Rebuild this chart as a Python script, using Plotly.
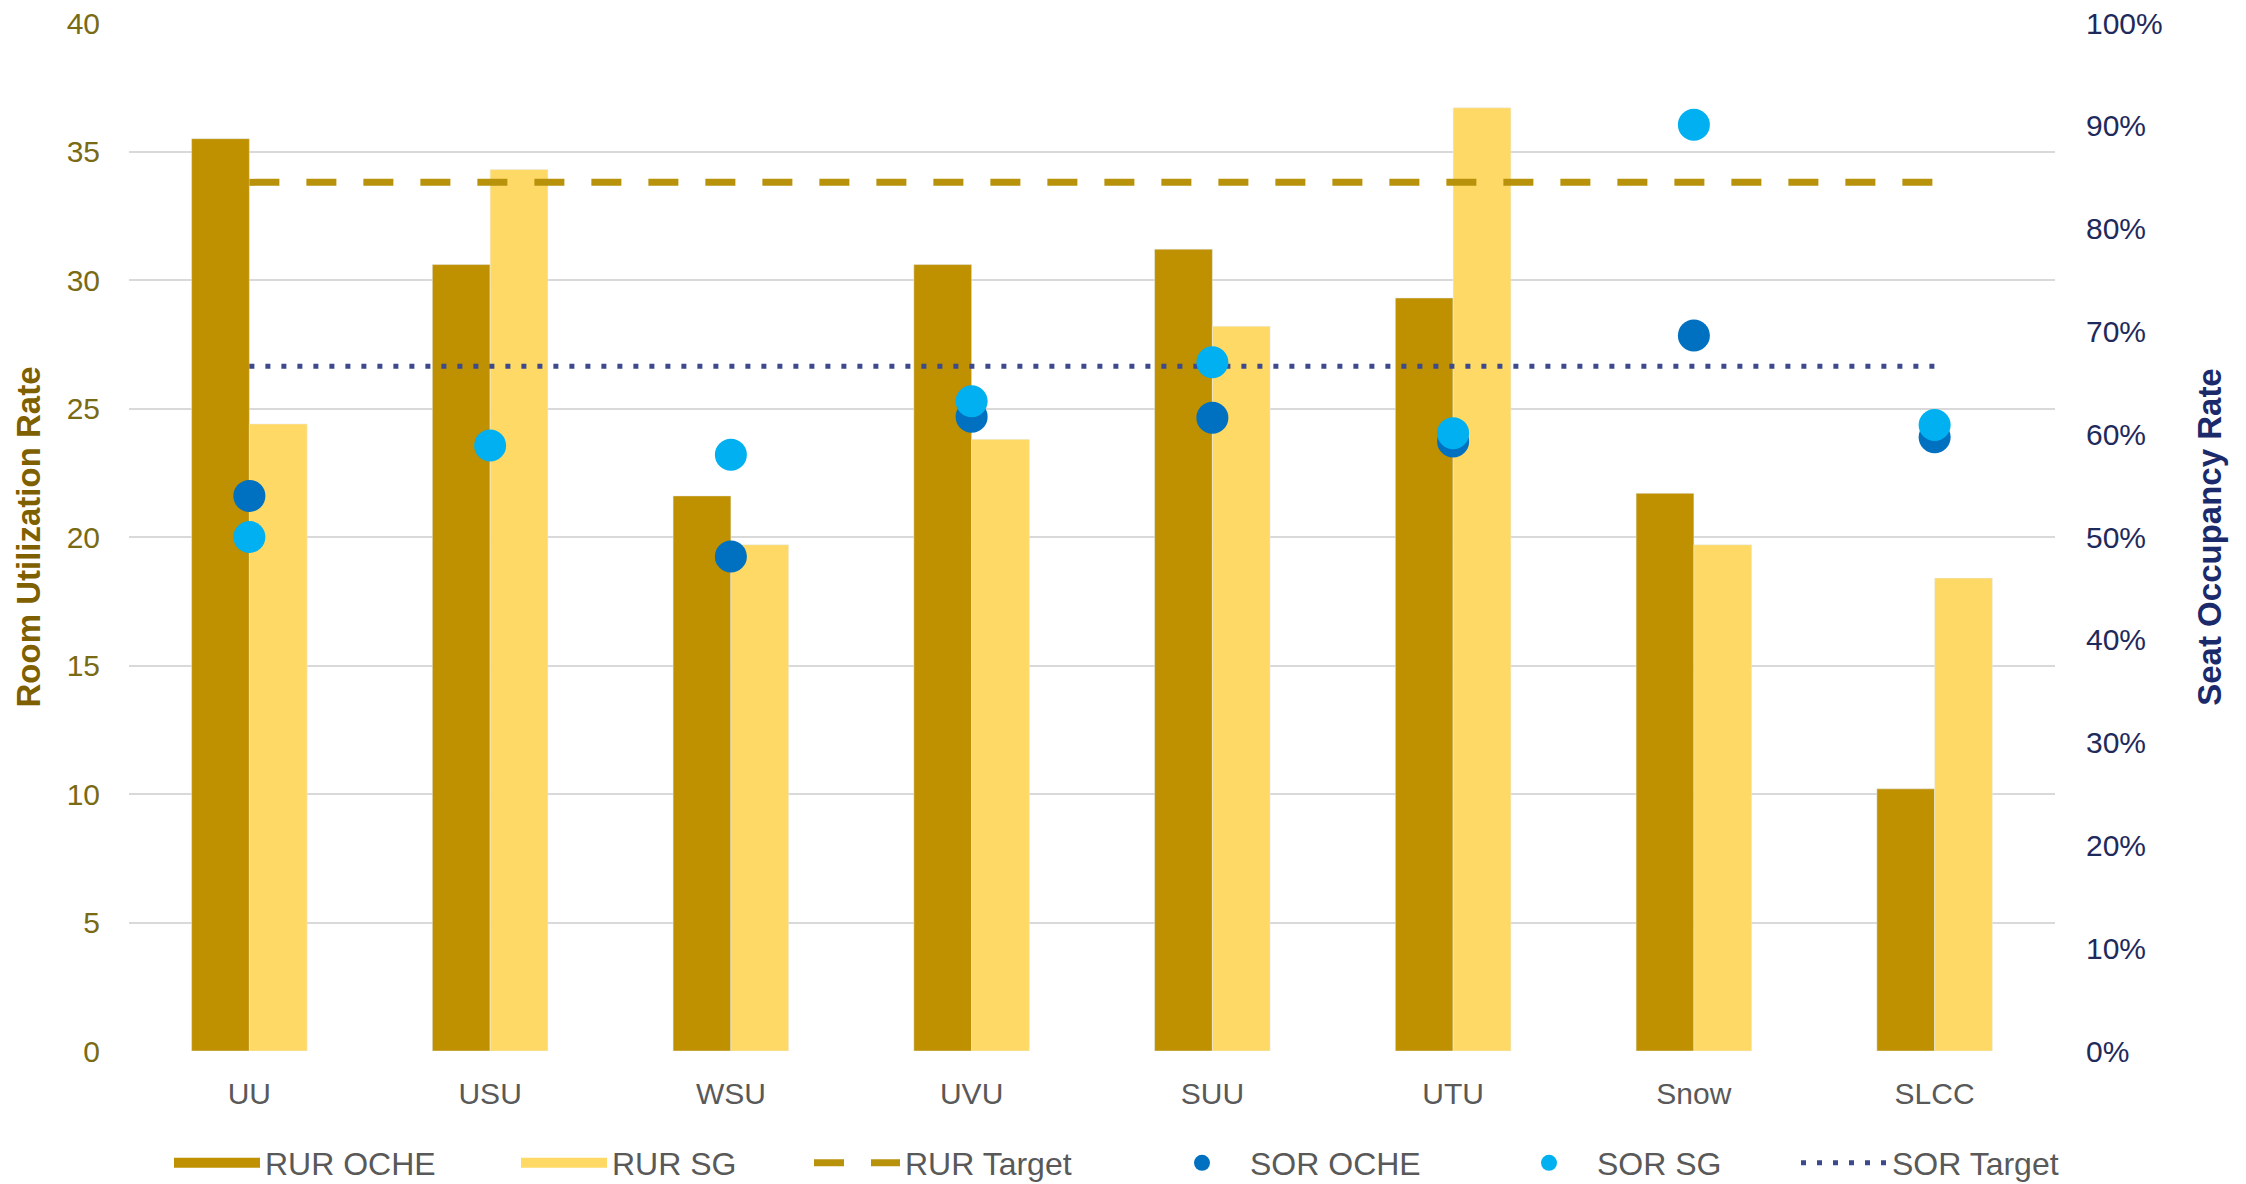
import plotly.graph_objects as go

categories = ["UU", "USU", "WSU", "UVU", "SUU", "UTU", "Snow", "SLCC"]
rur_oche = [35.5, 30.6, 21.6, 30.6, 31.2, 29.3, 21.7, 10.2]
rur_sg = [24.4, 34.3, 19.7, 23.8, 28.2, 36.7, 19.7, 18.4]
rur_target = [33.8] * len(categories)
sor_oche = [0.54, None, 0.481, 0.617, 0.616, 0.593, 0.696, 0.597]
sor_sg = [0.50, 0.589, 0.58, 0.632, 0.67, 0.601, 0.901, 0.609]
sor_target = [0.666] * len(categories)
left_ticks = list(range(0, 45, 5))
right_ticks = [i / 10 for i in range(0, 11)]

C_OCHE = "#BF9000"
C_SG = "#FFD966"
C_RT = "#B8920A"
C_SO = "#0070C0"
C_SS = "#00B0F0"
C_ST = "#3B4A8C"
FONT = "Liberation Sans, Arial, sans-serif"

fig = go.Figure()
fig.add_trace(go.Bar(x=categories, y=rur_oche, name="RUR OCHE", marker_color=C_OCHE,
                     showlegend=False, legendgroup="a"))
fig.add_trace(go.Bar(x=categories, y=rur_sg, name="RUR SG", marker_color=C_SG,
                     showlegend=False, legendgroup="b"))
# legend proxies for the bars (wide rectangles like the original)
fig.add_trace(go.Scatter(x=[None], y=[None], mode="lines", name="RUR OCHE",
                         line=dict(color=C_OCHE, width=20), legendgroup="a", legend="legend"))
fig.add_trace(go.Scatter(x=[None], y=[None], mode="lines", name="RUR SG",
                         line=dict(color=C_SG, width=20), legendgroup="b", legend="legend2"))
fig.add_trace(go.Scatter(x=categories, y=rur_target, mode="lines", name="RUR Target",
                         line=dict(color=C_RT, width=7, dash="30px,27px"), legend="legend3"))
fig.add_trace(go.Scatter(x=categories, y=sor_target, mode="lines", name="SOR Target",
                         line=dict(color=C_ST, width=5, dash="5px,11px"), yaxis="y2", legend="legend6"))
fig.add_trace(go.Scatter(x=categories, y=sor_oche, mode="markers", name="SOR OCHE",
                         marker=dict(color=C_SO, size=32), yaxis="y2", legend="legend4"))
fig.add_trace(go.Scatter(x=categories, y=sor_sg, mode="markers", name="SOR SG",
                         marker=dict(color=C_SS, size=32), yaxis="y2", legend="legend5"))

legend_lefts = [169, 516, 809, 1154, 1501, 1796]


def legend_cfg(left_px):
    return dict(orientation="h", xref="container", yref="container",
                x=left_px / 2246, xanchor="left", y=0.0177, yanchor="middle",
                font=dict(size=32, color="#595959"), itemwidth=86,
                bgcolor="rgba(0,0,0,0)")


legends = {("legend" if i == 0 else f"legend{i + 1}"): legend_cfg(p)
           for i, p in enumerate(legend_lefts)}

fig.update_layout(
    width=2246, height=1184,
    margin=dict(l=129, r=191, t=23, b=133),
    paper_bgcolor="white", plot_bgcolor="white",
    barmode="group", bargap=0.52, bargroupgap=0,
    font=dict(family=FONT, size=30, color="#595959"),
    xaxis=dict(showgrid=False, showline=False, ticks="", tickfont=dict(size=30, color="#595959"),
               ticklabelstandoff=22, automargin=False),
    yaxis=dict(range=[0, 40], tickvals=left_ticks, showgrid=True, gridcolor="#D9D9D9", gridwidth=2,
               zeroline=False, showline=False, ticks="", automargin=False,
               tickfont=dict(size=30, color="#7A6A14"), ticklabelstandoff=28,
               title=dict(text="<b>Room Utilization Rate</b>", font=dict(size=33, color="#7F6000"),
                          standoff=16)),
    yaxis2=dict(range=[0, 1], tickvals=right_ticks, tickformat=".0%", overlaying="y", side="right",
                showgrid=False, zeroline=False, showline=False, ticks="", automargin=False,
                tickfont=dict(size=30, color="#1F2A5C"), ticklabelstandoff=30,
                title=dict(text="<b>Seat Occupancy Rate</b>", font=dict(size=33, color="#1B2A6B"),
                           standoff=36)),
    showlegend=True,
    **legends,
)

fig.write_html("out.html")
